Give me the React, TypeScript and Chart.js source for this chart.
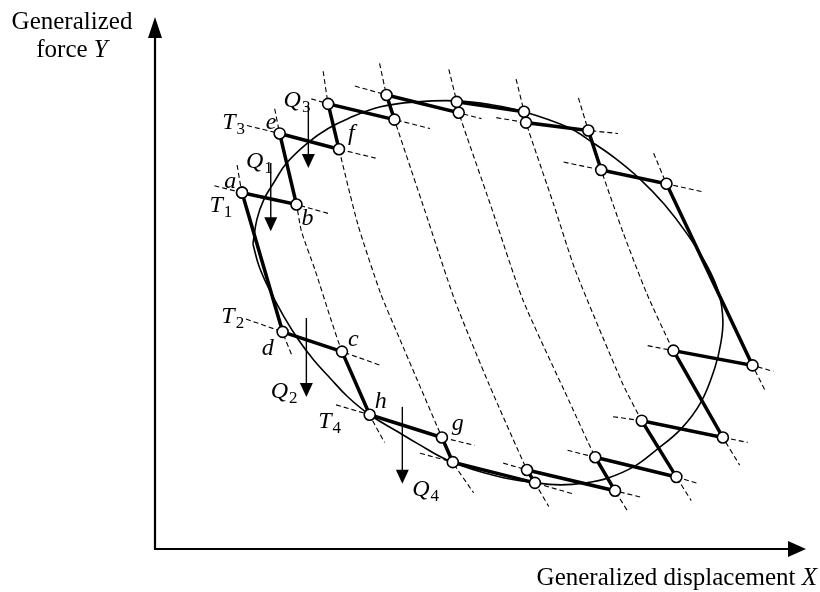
import React, { useEffect, useRef } from "react";
import { Chart, registerables } from "chart.js";

Chart.register(...registerables);

// ---- data (units: generalized displacement X / generalized force Y) ----
// closed zigzag loading path a-b-e-f-...-g-h-c-d-a
const PATH_X = [88, 143, 126, 186, 175, 242, 234, 307, 305, 373, 375, 438, 451, 517, 604, 524, 574, 492, 527, 445, 465, 376, 384, 301, 290, 217, 189, 129, 88];
const PATH_Y = [361, 349, 421, 405, 451, 435, 460, 442, 453, 443, 432, 424, 384, 370, 186, 201, 113, 130, 73, 93, 59, 80, 67, 88, 113, 136, 200, 220, 361];

// elliptical envelope (thin line)
const ENV_X = [99, 103, 110, 120, 133, 155, 175, 195, 228, 265, 305, 340, 373, 418, 442, 465, 490, 515, 538, 558, 570, 574, 572, 566, 552, 532, 505, 485, 458, 435, 410, 385, 345, 298, 265, 245, 217, 195, 178, 160, 145, 130, 115, 105, 99];
const ENV_Y = [309, 334, 354, 371, 391, 412, 426, 436, 448, 453, 454, 450, 443, 427, 412, 396, 375, 349, 319, 287, 259, 232, 209, 184, 149, 122, 99, 84, 72, 67, 65, 67, 74, 89, 107, 119, 136, 154, 172, 192, 212, 236, 264, 287, 309];

// steep dashed lines (Q direction)
const STEEP_X = [
  [83, 88, 129, 138],
  [121, 126, 143, 148, 162, 178, 189, 217, 232],
  [170, 175, 186, 205, 228, 246, 290, 301, 322],
  [227, 234, 242, 273, 303, 338, 376, 384, 398],
  [297, 305, 307, 339, 372, 419, 445, 465, 478],
  [365, 373, 375, 403, 425, 472, 492, 527, 542],
  [428, 438, 451, 473, 497, 524, 574, 591],
  [504, 517, 604, 617],
];
const STEEP_Y = [
  [389, 361, 220, 197],
  [446, 421, 349, 322, 282, 232, 200, 136, 108],
  [484, 451, 405, 329, 259, 216, 113, 88, 57],
  [492, 460, 435, 342, 252, 166, 80, 67, 43],
  [486, 453, 442, 349, 252, 149, 93, 59, 38],
  [476, 443, 432, 349, 282, 169, 130, 73, 49],
  [457, 424, 384, 321, 259, 201, 113, 85],
  [401, 370, 186, 160],
];

// gentle dashed lines (T direction)
const TLINE_X = [
  [60, 88, 143, 175], [93, 126, 186, 223], [158, 175, 242, 278], [202, 234, 307, 330],
  [345, 375, 438, 468], [413, 451, 517, 553], [498, 524, 604, 625], [463, 492, 574, 599],
  [417, 445, 527, 550], [352, 376, 465, 493], [268, 301, 384, 422], [183, 217, 290, 323],
  [92, 129, 189, 228],
];
const TLINE_Y = [
  [368, 361, 349, 340], [429, 421, 405, 396], [456, 451, 435, 426], [469, 460, 442, 436],
  [437, 432, 424, 421], [392, 384, 370, 362], [206, 201, 186, 180], [134, 130, 113, 108],
  [100, 93, 73, 66], [87, 80, 59, 52], [97, 88, 67, 56], [146, 136, 113, 105],
  [233, 220, 200, 186],
];

// Q load arrows
const ARROW_X = [117, 155, 153, 250];
const ARROW_FROM = [391, 449, 234, 144];
const ARROW_TO = [322, 386, 154, 66];

// point labels
const LABEL_MAIN = ["a", "T", "b", "Q", "e", "T", "Q", "f", "T", "d", "c", "Q", "h", "T", "g", "Q"];
const LABEL_SUB = ["", "1", "", "1", "", "3", "3", "", "2", "", "", "2", "", "4", "", "4"];
const LABEL_X = [70, 55, 148, 92, 112, 68, 130, 195, 67, 108, 195, 117, 222, 165, 300, 260];
const LABEL_Y = [366, 341, 328, 386, 426, 426, 448, 414, 229, 197, 206, 153, 143, 123, 121, 54];

const X_MAX = 665;
const Y_MAX = 549;
const X_ARROW_TIP = 658;
const Y_ARROW_TIP = 539;

const SERIF = '"Liberation Serif", "Times New Roman", serif';

const pts = (xs: number[], ys: number[]) => xs.map((x, i) => ({ x, y: ys[i] }));

const decorPlugin = {
  id: "decor",
  afterDatasetsDraw(chart: any) {
    const ctx: CanvasRenderingContext2D = chart.ctx;
    const xs = chart.scales.x;
    const ys = chart.scales.y;
    const px = (v: number) => xs.getPixelForValue(v);
    const py = (v: number) => ys.getPixelForValue(v);
    ctx.save();
    ctx.fillStyle = "#000";
    ctx.strokeStyle = "#000";

    // axes
    const ox = px(0), oy = py(0);
    const ty = py(Y_ARROW_TIP), tx = px(X_ARROW_TIP);
    ctx.lineWidth = 2.2;
    ctx.beginPath();
    ctx.moveTo(ox, ty + 18);
    ctx.lineTo(ox, oy);
    ctx.lineTo(tx - 16, oy);
    ctx.stroke();
    ctx.beginPath();
    ctx.moveTo(ox, ty);
    ctx.lineTo(ox - 7, ty + 21);
    ctx.lineTo(ox + 7, ty + 21);
    ctx.closePath();
    ctx.fill();
    ctx.beginPath();
    ctx.moveTo(tx, oy);
    ctx.lineTo(tx - 18, oy - 8);
    ctx.lineTo(tx - 18, oy + 8);
    ctx.closePath();
    ctx.fill();

    // Q arrows
    ctx.lineWidth = 1.4;
    ARROW_X.forEach((ax, i) => {
      const x = px(ax);
      const y0 = py(ARROW_FROM[i]);
      const y1 = py(ARROW_TO[i]);
      ctx.beginPath();
      ctx.moveTo(x, y0);
      ctx.lineTo(x, y1 - 10);
      ctx.stroke();
      ctx.beginPath();
      ctx.moveTo(x, y1);
      ctx.lineTo(x - 6.5, y1 - 14);
      ctx.lineTo(x + 6.5, y1 - 14);
      ctx.closePath();
      ctx.fill();
    });

    // point labels
    ctx.textBaseline = "alphabetic";
    ctx.textAlign = "left";
    LABEL_MAIN.forEach((m, i) => {
      const x = px(LABEL_X[i]);
      const y = py(LABEL_Y[i]);
      ctx.font = `italic 24px ${SERIF}`;
      ctx.fillText(m, x, y);
      if (LABEL_SUB[i]) {
        const w = ctx.measureText(m).width;
        ctx.font = `17px ${SERIF}`;
        ctx.fillText(LABEL_SUB[i], x + w + 1, y + 5);
      }
    });

    // axis titles
    ctx.font = `25px ${SERIF}`;
    ctx.textAlign = "center";
    ctx.fillText("Generalized", 72, 29);
    ctx.textAlign = "left";
    const f1 = "force ";
    ctx.font = `25px ${SERIF}`;
    const w1 = ctx.measureText(f1).width;
    ctx.font = `italic 25px ${SERIF}`;
    const w2 = ctx.measureText("Y").width;
    const sx = 72 - (w1 + w2) / 2;
    ctx.font = `25px ${SERIF}`;
    ctx.fillText(f1, sx, 57);
    ctx.font = `italic 25px ${SERIF}`;
    ctx.fillText("Y", sx + w1, 57);

    ctx.font = `italic 25px ${SERIF}`;
    const wx = ctx.measureText("X").width;
    ctx.textAlign = "right";
    ctx.fillText("X", 817, 585);
    ctx.font = `25px ${SERIF}`;
    ctx.fillText("Generalized displacement ", 817 - wx, 585);
    ctx.restore();
  },
};

export default function App() {
  const ref = useRef<HTMLCanvasElement>(null);
  useEffect(() => {
    document.body.style.margin = "0";
    const canvas = ref.current;
    if (!canvas) return;
    const dashed = (xs: number[], ys: number[], tension: number) => ({
      data: pts(xs, ys),
      borderColor: "#000",
      borderWidth: 1.1,
      borderDash: [5, 3],
      pointRadius: 0,
      tension,
      fill: false,
      clip: false as any,
    });
    const datasets: any[] = [
      {
        data: pts(PATH_X, PATH_Y),
        borderColor: "#000",
        borderWidth: 3.5,
        pointRadius: 5.5,
        pointBackgroundColor: "#fff",
        pointBorderColor: "#000",
        pointBorderWidth: 1.6,
        tension: 0,
        fill: false,
        clip: false,
      },
      {
        data: pts(ENV_X, ENV_Y),
        borderColor: "#000",
        borderWidth: 1.6,
        pointRadius: 0,
        tension: 0.4,
        fill: false,
        clip: false,
      },
      ...STEEP_X.map((xs, i) => dashed(xs, STEEP_Y[i], 0.2)),
      ...TLINE_X.map((xs, i) => dashed(xs, TLINE_Y[i], 0)),
    ];
    const chart = new Chart(canvas, {
      type: "line",
      data: { datasets },
      options: {
        responsive: false,
        animation: false,
        events: [],
        layout: { padding: { left: 155, top: 0, right: 0, bottom: 43 } },
        plugins: { legend: { display: false }, tooltip: { enabled: false } },
        scales: {
          x: { type: "linear", display: false, min: 0, max: X_MAX },
          y: { type: "linear", display: false, min: 0, max: Y_MAX },
        },
      },
      plugins: [decorPlugin],
    });
    return () => chart.destroy();
  }, []);
  return (
    <div style={{ width: 820, height: 592, background: "#fff" }}>
      <canvas ref={ref} width={820} height={592} style={{ display: "block", width: 820, height: 592 }} />
    </div>
  );
}
